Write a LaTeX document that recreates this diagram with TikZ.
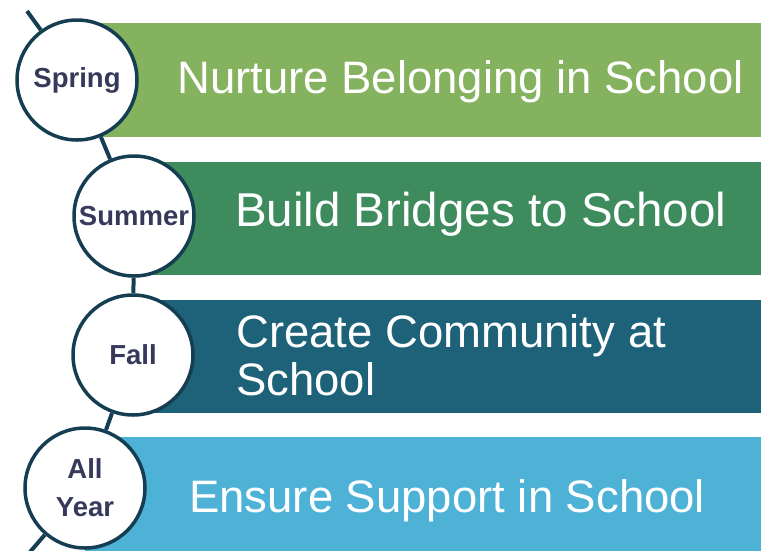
\documentclass[tikz,border=0pt]{standalone}
\usepackage{fontspec}
\setmainfont{Liberation Sans}
\definecolor{barA}{HTML}{84B25E}
\definecolor{barB}{HTML}{3E8B5E}
\definecolor{barC}{HTML}{1D6279}
\definecolor{barD}{HTML}{4DB2D6}
\definecolor{ring}{HTML}{163E52}
\definecolor{lbl}{HTML}{36395A}
\begin{document}
\begin{tikzpicture}[x=1pt,y=-1pt,
  season/.style={circle, draw=ring, line width=3.5pt, fill=white, minimum size=120pt, inner sep=0pt,
    font=\fontsize{27.5}{38}\selectfont\bfseries, text=lbl, align=center},
  bartext/.style={text=white, font=\fontsize{45.5}{48}\selectfont, inner sep=0pt, anchor=base west, align=left},
  link/.style={draw=ring, line width=4pt}]
\useasboundingbox (0,0) rectangle (761,550);
% bars
\fill[barA] (77,23) rectangle (761,137);
\fill[barB] (134,162) rectangle (761,275);
\fill[barC] (133,300) rectangle (761,413);
\fill[barD] (85,437) rectangle (761,551);
% coordinates for free ends
\coordinate (top) at (27,11);
\coordinate (bot) at (30,552);
% circles
\node[season] (spring) at (77,80) {Spring};
\node[season] (summer) at (134,216) {Summer};
\node[season] (fall) at (133,355) {Fall};
\node[season] (allyear) at (85,488) {All\\Year};
% connectors
\draw[link] (top) -- (spring);
\draw[link] (spring) -- (summer);
\draw[link] (summer) -- (fall);
\draw[link] (fall) -- (allyear);
\draw[link] (allyear) -- (bot);
% bar texts
\node[bartext] (t1) at (177,93) {Nurture Belonging in School};
\node[bartext, font=\fontsize{47.5}{48}\selectfont] (t2) at (235,226) {Build Bridges to School};
\node[bartext] (t3) at (236,395) {Create Community at\\School};
\node[bartext] (t4) at (189,512) {Ensure Support in School};
\end{tikzpicture}
\end{document}
